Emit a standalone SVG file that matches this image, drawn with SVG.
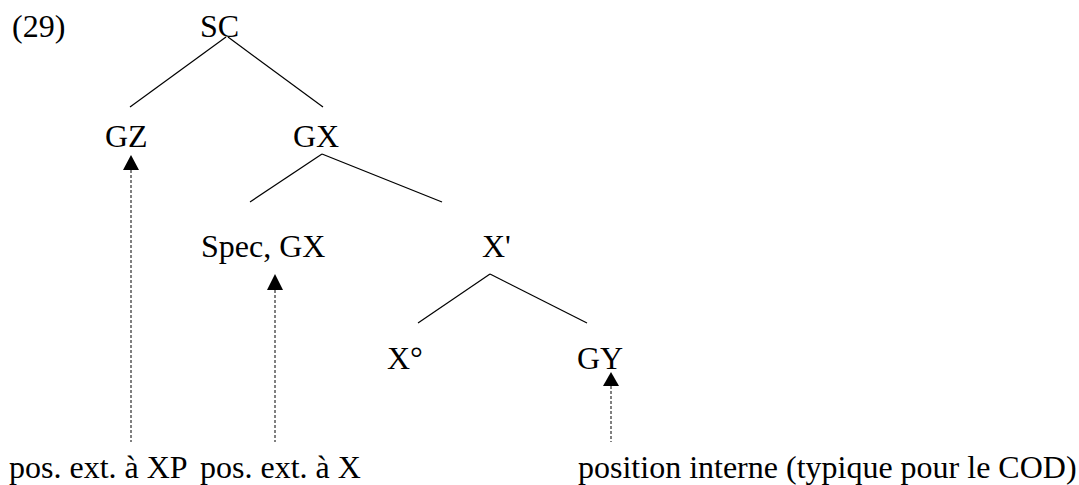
<svg xmlns="http://www.w3.org/2000/svg" width="1079" height="485" viewBox="0 0 1079 485">
<style>
text{font-family:"Liberation Serif","Times New Roman",serif;font-size:32px;fill:#000}
.e{stroke:#000;stroke-width:1.2;fill:none}
.d{stroke:#000;stroke-width:1;stroke-dasharray:3,2;fill:none}
.h{fill:#000}
</style>
<rect width="1079" height="485" fill="#fff"/>
<text x="12" y="37">(29)</text>
<g id="connectors">
<line class="e" x1="226" y1="37" x2="130" y2="107"/>
<line class="e" x1="228" y1="37" x2="323" y2="107"/>
<line class="e" x1="322" y1="154" x2="250" y2="202"/>
<line class="e" x1="322" y1="154" x2="442" y2="202"/>
<line class="e" x1="490" y1="274" x2="418" y2="323"/>
<line class="e" x1="490" y1="274" x2="587" y2="323"/>
<line class="d" x1="131" y1="170" x2="131" y2="442"/>
<polygon class="h" points="131,155 123,170 139,170"/>
<line class="d" x1="275" y1="290" x2="275" y2="442"/>
<polygon class="h" points="275,274 267,290 283,290"/>
<line class="d" x1="611" y1="386" x2="611" y2="442"/>
<polygon class="h" points="611,372 603,386 619,386"/>
</g>
<g id="n-SC"><text x="200" y="37">SC</text></g>
<g id="n-GZ"><text x="105" y="147">GZ</text></g>
<g id="n-GX"><text x="293" y="147">GX</text></g>
<g id="n-Spec"><text x="201" y="257">Spec, GX</text></g>
<g id="n-Xbar"><text x="482" y="257">X'</text></g>
<g id="n-X0"><text x="387" y="369">X°</text></g>
<g id="n-GY"><text x="577" y="369">GY</text></g>
<g id="n-posXP"><text x="9" y="478">pos. ext. à XP</text></g>
<g id="n-posX"><text x="200" y="478">pos. ext. à X</text></g>
<g id="n-posint"><text x="578" y="478">position interne (typique pour le COD)</text></g>
</svg>
